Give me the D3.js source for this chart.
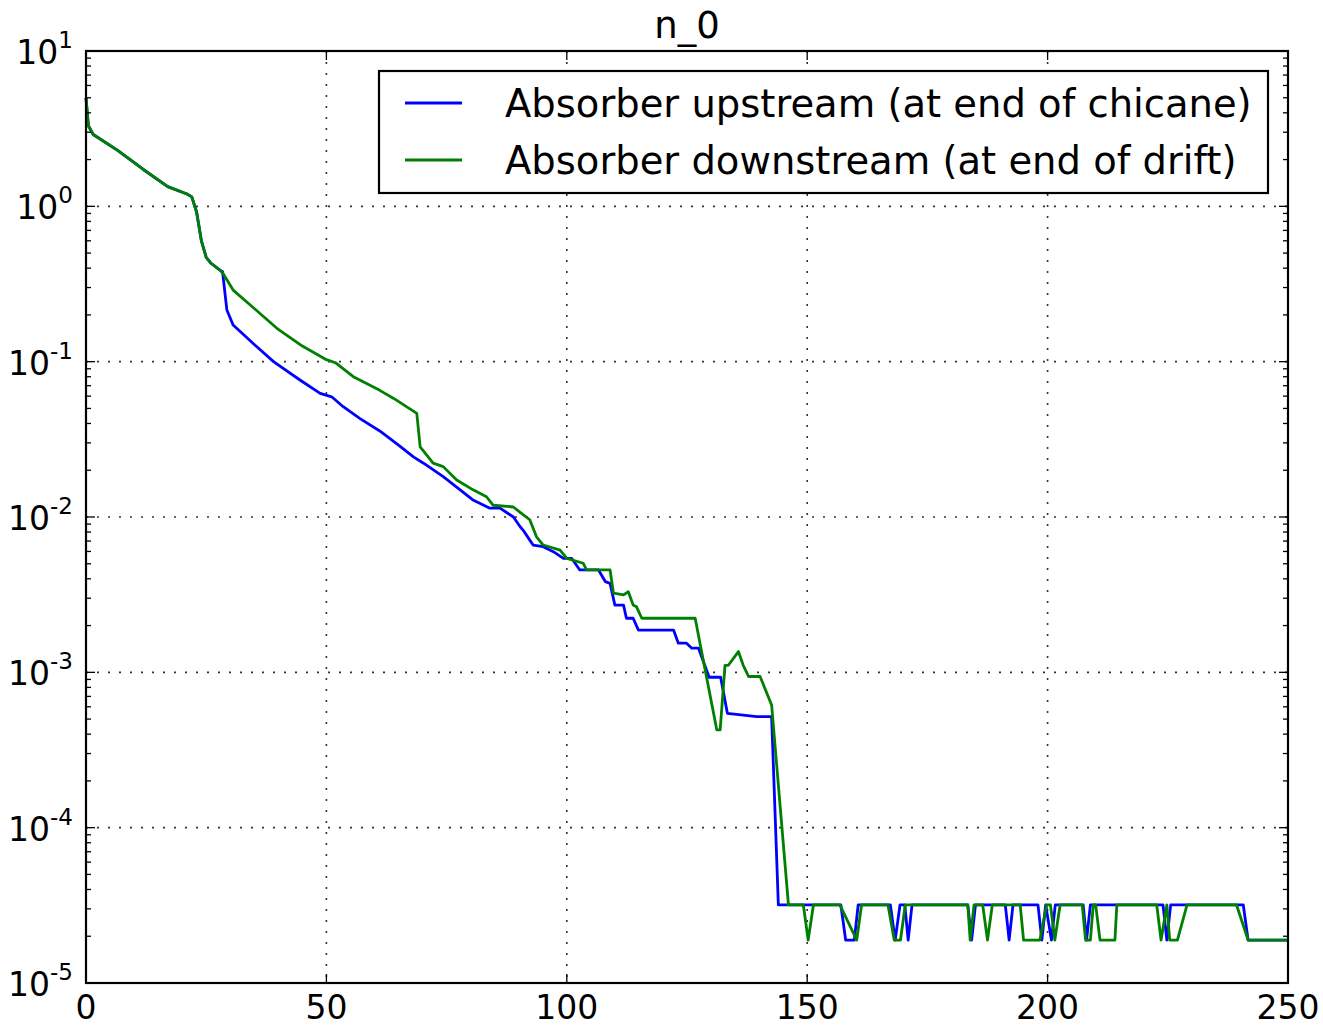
<!DOCTYPE html>
<html>
<head>
<meta charset="utf-8">
<script src="https://cdn.jsdelivr.net/npm/d3@7"></script>
<style>
  body { margin: 0; background: #fff; }
  svg { display: block; font-family: "DejaVu Sans", sans-serif; }
</style>
</head>
<body>
<div id="chart"></div>
<script>
// shared part of both curves (they overlap up to x ~ 28)
const headX = [0, 0.5, 1.5, 6.5, 12, 17, 21, 22, 23, 24, 25, 26, 28];
const headY = [5.0, 3.3, 2.9, 2.3, 1.72, 1.34, 1.2, 1.15, 0.92, 0.6, 0.47, 0.43, 0.385];

// Absorber upstream (blue)
const upX = [28.4, 29.3, 30.6, 35, 39, 44.5, 48.7, 51.1, 53.5, 57, 61.1, 65, 68.1, 70.2, 74.3,
  80.6, 84, 86.1, 88.9, 90.3, 90.9, 92.3, 93, 95.1, 97.2, 99.3, 101, 102.7, 106.6, 108, 109,
  110, 111.8, 112.4, 113.8, 114.9, 122.2, 123.2, 124.9, 126, 127.4, 129.6, 132, 133.4, 139.5,
  142.6, 144,
  157, 158, 159.8, 160.6, 167.3, 168.3, 169.3, 170.3, 171, 171.8, 183.4, 184.2, 185, 191.2,
  192, 192.8, 198, 198.8, 199.6, 200.8, 201.6, 207.4, 208.1, 208.9, 224, 224.8, 225.6, 240.7,
  241.7, 250];
const upY = [0.38, 0.215, 0.172, 0.129, 0.1, 0.0762, 0.0625, 0.0594, 0.0513, 0.043, 0.0358,
  0.029, 0.0244, 0.0222, 0.0182, 0.0128, 0.0114, 0.0114, 0.0100, 0.00865, 0.00824, 0.0071,
  0.0066, 0.00644, 0.00598, 0.00542, 0.00542, 0.00456, 0.00456, 0.00384, 0.00374, 0.00271,
  0.00271, 0.00223, 0.00223, 0.00187, 0.00187, 0.00154, 0.00154, 0.00143, 0.00143, 0.00093,
  0.00093, 0.000545, 0.000518, 0.000518, 3.18e-5,
  3.18e-5, 1.89e-5, 1.89e-5, 3.18e-5, 3.18e-5, 1.89e-5, 3.18e-5, 3.18e-5, 1.89e-5, 3.18e-5,
  3.18e-5, 1.89e-5, 3.18e-5, 3.18e-5, 1.89e-5, 3.18e-5, 3.18e-5, 1.89e-5, 3.18e-5, 1.89e-5,
  3.18e-5, 3.18e-5, 1.89e-5, 3.18e-5, 3.18e-5, 1.89e-5, 3.18e-5, 3.18e-5, 1.89e-5, 1.89e-5];

// Absorber downstream (green)
const downX = [28.5, 30.6, 35, 39.7, 45, 50, 52, 55.6, 61, 64, 68.8, 69.5, 72.2, 74.3, 77.1,
  80.6, 83.3, 84.7, 88.9, 90.3, 92.3, 93.7, 95.1, 98.6, 100, 103.4, 104.1, 109, 109.7, 111.8,
  112.8, 113.8, 114.5, 115.6, 126.7, 127.7, 131.2, 131.9, 132.9, 133.6, 135.7, 136.7, 137.8,
  140.2, 142.6, 146.1,
  149.2, 150.2, 151.3, 156.8, 160.3, 161.3, 166.8, 168.1, 169.4, 170.4, 183.4, 183.9, 184.7,
  186.5, 187.5, 188.5, 194.3, 195, 198.4, 199.8, 200.6, 201.5, 202.6, 207.2, 207.9, 208.9,
  209.5, 210, 210.9, 214, 214.4, 222.7, 223.6, 224.8, 225.4, 227, 229, 239.3, 241.7, 250];
const downY = [0.37, 0.289, 0.22, 0.164, 0.126, 0.103, 0.098, 0.080, 0.0656, 0.058, 0.0465,
  0.0283, 0.0222, 0.0211, 0.0173, 0.0149, 0.0135, 0.0119, 0.0116, 0.0107, 0.0096, 0.00746,
  0.0066, 0.00612, 0.00542, 0.00504, 0.00456, 0.00456, 0.00323, 0.00315, 0.0033, 0.00271,
  0.00264, 0.00223, 0.00223, 0.00154, 0.000426, 0.000426, 0.00111, 0.00111, 0.00136, 0.00111,
  0.00094, 0.00094, 0.000617, 3.18e-5,
  3.18e-5, 1.89e-5, 3.18e-5, 3.18e-5, 1.89e-5, 3.18e-5, 3.18e-5, 1.89e-5, 1.89e-5, 3.18e-5,
  3.18e-5, 1.89e-5, 3.18e-5, 3.18e-5, 1.89e-5, 3.18e-5, 3.18e-5, 1.89e-5, 1.89e-5, 3.18e-5,
  3.18e-5, 1.89e-5, 3.18e-5, 3.18e-5, 1.89e-5, 1.89e-5, 3.18e-5, 3.18e-5, 1.89e-5, 1.89e-5,
  3.18e-5, 3.18e-5, 1.89e-5, 3.18e-5, 1.89e-5, 1.89e-5, 3.18e-5, 3.18e-5, 1.89e-5, 1.89e-5];

const seriesNames = ["Absorber upstream (at end of chicane)", "Absorber downstream (at end of drift)"];
const seriesColors = ["#0000ff", "#008000"];
const xTicks = [0, 50, 100, 150, 200, 250];
const yExponents = [-5, -4, -3, -2, -1, 0, 1];
const title = "n_0";

const width = 1323, height = 1027;
const margin = { left: 86, top: 51, right: 35, bottom: 44 };
const x0 = margin.left, x1 = width - margin.right;
const y0 = margin.top, y1 = height - margin.bottom;

const toPoints = (xs, ys) => xs.map((x, i) => ({ x, y: ys[i] }));
const series = [
  toPoints(headX.concat(upX), headY.concat(upY)),
  toPoints(headX.concat(downX), headY.concat(downY)),
];

const x = d3.scaleLinear().domain([0, 250]).range([x0, x1]);
const y = d3.scaleLog().domain([1e-5, 10]).range([y1, y0]);

const svg = d3.select("#chart").append("svg")
  .attr("width", width).attr("height", height);

svg.append("rect").attr("width", width).attr("height", height).attr("fill", "#fff");

const majorY = yExponents.map((e) => Math.pow(10, e));
const minorY = [];
yExponents.slice(0, -1).forEach((e) => {
  for (let k = 2; k <= 9; k++) minorY.push(k * Math.pow(10, e));
});

// grid
const grid = svg.append("g")
  .attr("stroke", "#000").attr("stroke-width", 1.6)
  .attr("stroke-dasharray", "2,9").attr("opacity", 0.8);
grid.selectAll(".gx").data(xTicks.slice(1, -1)).join("line")
  .attr("x1", (d) => x(d)).attr("x2", (d) => x(d))
  .attr("y1", y0).attr("y2", y1);
grid.selectAll(".gy").data(majorY.slice(1, -1)).join("line")
  .attr("x1", x0).attr("x2", x1)
  .attr("y1", (d) => y(d)).attr("y2", (d) => y(d));

// curves
const line = d3.line().x((d) => x(d.x)).y((d) => y(d.y));
const plot = svg.append("g");
series.forEach((pts, i) => {
  plot.append("path")
    .attr("d", line(pts))
    .attr("fill", "none")
    .attr("stroke", seriesColors[i])
    .attr("stroke-width", 2.8)
    .attr("stroke-linejoin", "round");
});

// ticks (inside, on all four sides)
const ticks = svg.append("g").attr("stroke", "#000").attr("stroke-width", 1.3);
xTicks.forEach((t) => {
  ticks.append("line").attr("x1", x(t)).attr("x2", x(t)).attr("y1", y1).attr("y2", y1 - 9);
  ticks.append("line").attr("x1", x(t)).attr("x2", x(t)).attr("y1", y0).attr("y2", y0 + 9);
});
majorY.forEach((t) => {
  ticks.append("line").attr("x1", x0).attr("x2", x0 + 9).attr("y1", y(t)).attr("y2", y(t));
  ticks.append("line").attr("x1", x1).attr("x2", x1 - 9).attr("y1", y(t)).attr("y2", y(t));
});
minorY.forEach((t) => {
  ticks.append("line").attr("x1", x0).attr("x2", x0 + 5).attr("y1", y(t)).attr("y2", y(t));
  ticks.append("line").attr("x1", x1).attr("x2", x1 - 5).attr("y1", y(t)).attr("y2", y(t));
});

// frame
svg.append("rect")
  .attr("x", x0).attr("y", y0).attr("width", x1 - x0).attr("height", y1 - y0)
  .attr("fill", "none").attr("stroke", "#000").attr("stroke-width", 2.2);

// tick labels
svg.append("g").selectAll("text").data(xTicks).join("text")
  .attr("x", (d) => x(d)).attr("y", y1 + 36)
  .attr("text-anchor", "middle").attr("font-size", 33)
  .text((d) => d);

const yl = svg.append("g").selectAll("text").data(yExponents).join("text")
  .attr("x", x0 - 13).attr("y", (d) => y(Math.pow(10, d)) + 13)
  .attr("text-anchor", "end").attr("font-size", 33);
yl.append("tspan").text("10");
yl.append("tspan").attr("dy", -16).attr("font-size", 23).text((d) => d);

// title
svg.append("text")
  .attr("x", (x0 + x1) / 2).attr("y", 38)
  .attr("text-anchor", "middle").attr("font-size", 37)
  .text(title);

// legend
const legend = svg.append("g");
legend.append("rect")
  .attr("x", 379).attr("y", 71).attr("width", 889).attr("height", 122)
  .attr("fill", "#fff").attr("stroke", "#000").attr("stroke-width", 2.2);
seriesNames.forEach((name, i) => {
  const ly = 103 + i * 57;
  legend.append("line")
    .attr("x1", 405).attr("x2", 462).attr("y1", ly).attr("y2", ly)
    .attr("stroke", seriesColors[i]).attr("stroke-width", 2.8);
  legend.append("text")
    .attr("x", 505).attr("y", ly + 14)
    .attr("font-size", 38.5)
    .text(name);
});
</script>
</body>
</html>
